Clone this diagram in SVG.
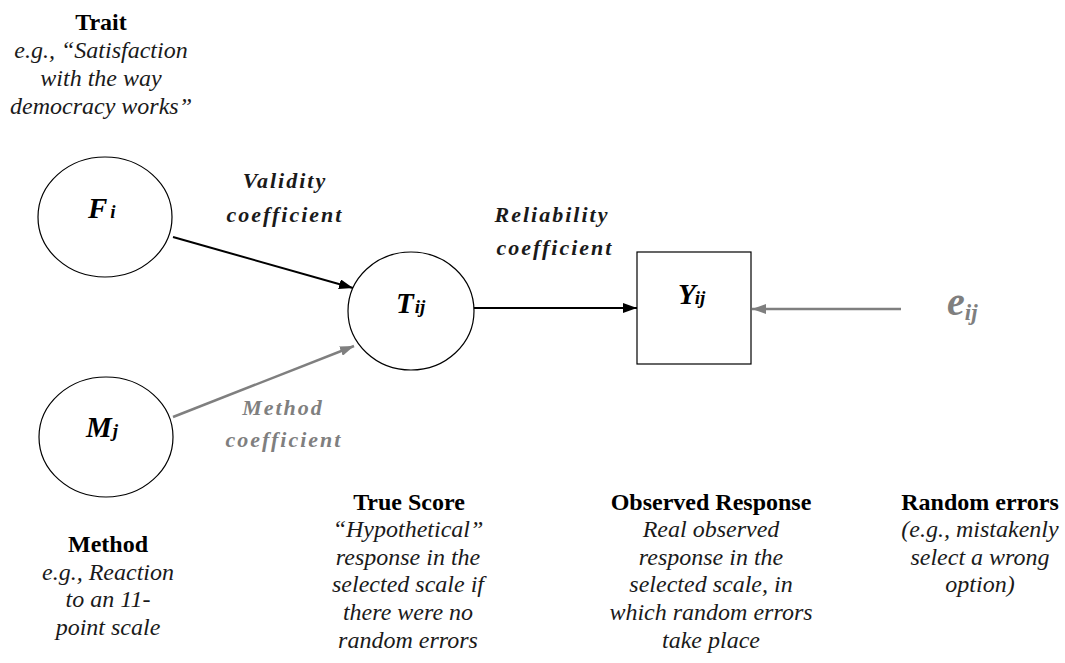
<svg xmlns="http://www.w3.org/2000/svg" width="1065" height="663" viewBox="0 0 1065 663">
<style>
.bg{fill:#fff}
.node{fill:#fff;stroke:#000;stroke-width:1.2}
text{font-family:"Liberation Serif","Times New Roman",serif}
.head{font-weight:bold;font-size:24px;fill:#000;text-anchor:middle}
.desc{font-style:italic;font-size:24px;fill:#1a1a1a;text-anchor:middle}
.coef{font-style:italic;font-weight:bold;font-size:22px;letter-spacing:2px;fill:#1a1a1a;text-anchor:middle}
.var{font-style:italic;font-weight:bold;font-size:29px;fill:#000}
.sub{font-size:19px}
.gray{fill:#7f7f7f}
.edge{stroke:#000;stroke-width:2;fill:none}
.edgeg{stroke:#7f7f7f;stroke-width:2.5;fill:none}
</style>
<defs>
<marker id="ah" viewBox="0 0 14 10" refX="14" refY="5" markerWidth="14" markerHeight="10" markerUnits="userSpaceOnUse" orient="auto"><path d="M0,0 L14,5 L0,10 Z" fill="#000"/></marker>
<marker id="ahg" viewBox="0 0 14 10" refX="14" refY="5" markerWidth="14" markerHeight="10" markerUnits="userSpaceOnUse" orient="auto"><path d="M0,0 L14,5 L0,10 Z" fill="#7f7f7f"/></marker>
</defs>
<rect class="bg" width="1065" height="663"/>

<g id="connectors">
<line class="edge" x1="173" y1="237" x2="353" y2="288" marker-end="url(#ah)"/>
<line class="edgeg" x1="173" y1="417" x2="354" y2="346" marker-end="url(#ahg)"/>
<line class="edge" x1="474" y1="308" x2="637" y2="308" marker-end="url(#ah)"/>
<line class="edgeg" x1="901" y1="309" x2="752" y2="309" marker-end="url(#ahg)"/>
<text class="coef" x="285" y="188">Validity</text>
<text class="coef" x="285" y="222">coefficient</text>
<text class="coef" x="552" y="222">Reliability</text>
<text class="coef" x="555" y="255">coefficient</text>
<text class="coef gray" x="283" y="415">Method</text>
<text class="coef gray" x="284" y="447">coefficient</text>
</g>

<g id="trait">
<ellipse class="node" cx="105" cy="217" rx="67" ry="60"/>
<text class="var" x="88" y="218">F<tspan class="sub" dx="3">i</tspan></text>
<text class="head" x="101" y="30">Trait</text>
<text class="desc" x="101" y="58">e.g., “Satisfaction</text>
<text class="desc" x="101" y="86">with the way</text>
<text class="desc" x="101" y="114">democracy works”</text>
</g>

<g id="method">
<ellipse class="node" cx="106" cy="437" rx="67" ry="60"/>
<text class="var" x="86" y="437">M<tspan class="sub" dx="1">j</tspan></text>
<text class="head" x="108" y="552">Method</text>
<text class="desc" x="108" y="580">e.g., Reaction</text>
<text class="desc" x="108" y="607">to an 11-</text>
<text class="desc" x="108" y="635">point scale</text>
</g>

<g id="truescore">
<ellipse class="node" cx="411" cy="311" rx="63" ry="59"/>
<text class="var" x="396" y="313">T<tspan class="sub" dx="1">ij</tspan></text>
<text class="head" x="409" y="510">True Score</text>
<text class="desc" x="408" y="537">“Hypothetical”</text>
<text class="desc" x="408" y="565">response in the</text>
<text class="desc" x="408" y="592">selected scale if</text>
<text class="desc" x="408" y="620">there were no</text>
<text class="desc" x="408" y="648">random errors</text>
</g>

<g id="observed">
<rect class="node" x="637" y="252" width="114" height="112"/>
<text class="var" x="678" y="304">Y<tspan class="sub" dx="-1">ij</tspan></text>
<text class="head" x="711" y="510">Observed Response</text>
<text class="desc" x="711" y="537">Real observed</text>
<text class="desc" x="711" y="565">response in the</text>
<text class="desc" x="711" y="592">selected scale, in</text>
<text class="desc" x="711" y="620">which random errors</text>
<text class="desc" x="711" y="648">take place</text>
</g>

<g id="error">
<text class="var gray" x="947" y="315" style="font-size:40px">e<tspan style="font-size:23px" dy="5">ij</tspan></text>
<text class="head" x="980" y="510">Random errors</text>
<text class="desc" x="980" y="537">(e.g., mistakenly</text>
<text class="desc" x="980" y="565">select a wrong</text>
<text class="desc" x="980" y="592">option)</text>
</g>
</svg>
